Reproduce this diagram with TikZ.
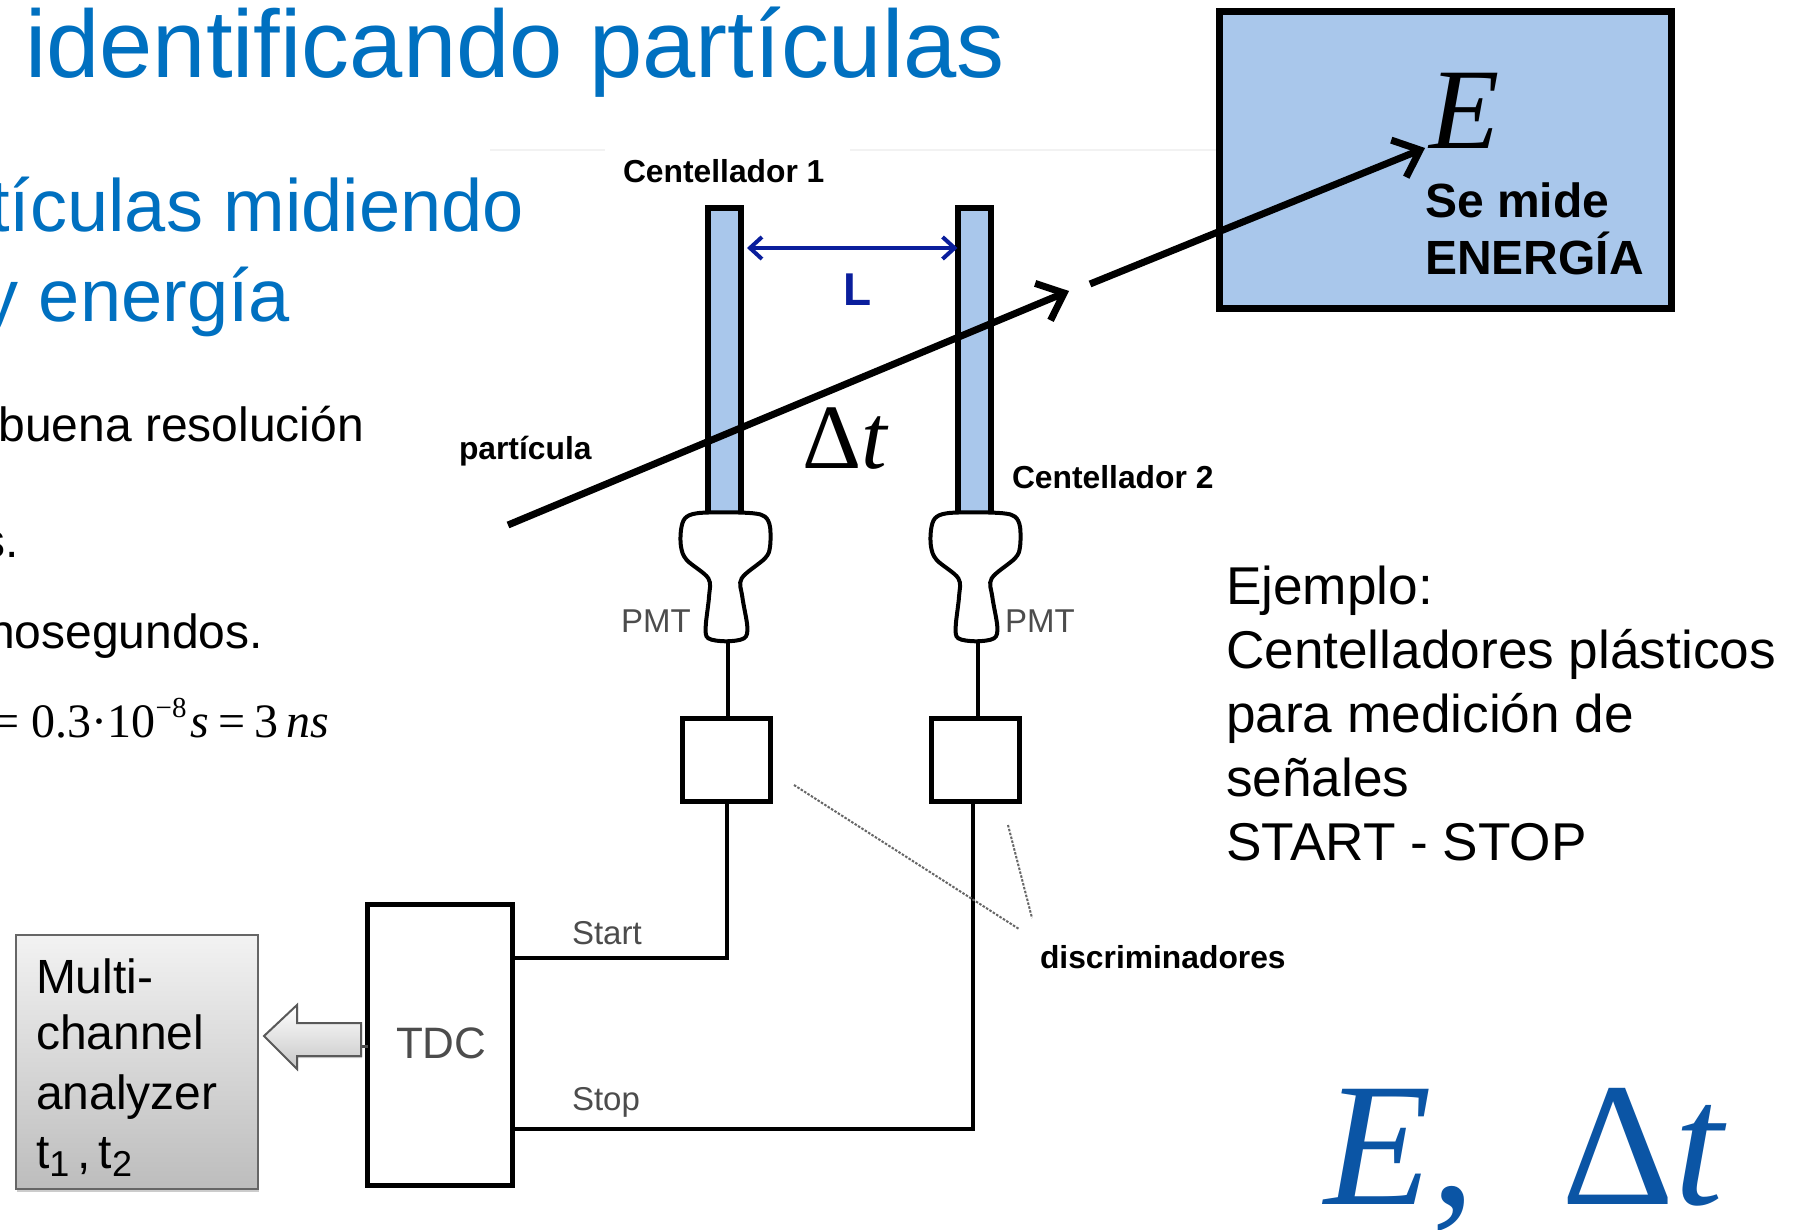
\documentclass[tikz,border=0pt]{standalone}
\usepackage{fontspec}
\setmainfont{Liberation Sans}
\newfontfamily\tms{Liberation Serif}
\newfontfamily\tmsb[FakeBold=0.8]{Liberation Serif}
\usetikzlibrary{arrows.meta,shadows}
\definecolor{titleblue}{HTML}{0070C0}
\definecolor{bigblue}{HTML}{0B55A5}
\definecolor{scintblue}{HTML}{A9C7EB}
\definecolor{lblue}{HTML}{0A1E9C}
\newcommand{\fsz}[1]{\fontsize{#1}{#1}\selectfont}
\tikzset{
  x=1pt,y=-1pt,
  txt/.style={inner sep=0pt,outer sep=0pt,anchor=base west,align=left},
  txe/.style={inner sep=0pt,outer sep=0pt,anchor=base east},
  lab/.style={txt,font=\bfseries\fsz{31.8}},
  gray lab/.style={txt,text=black!70,font=\fsz{33}},
  scint/.style={draw=black,line width=6pt,fill=scintblue,inner sep=0pt,outer sep=0pt,minimum width=33pt,minimum height=305pt},
  discbox/.style={draw=black,line width=5pt,fill=white,inner sep=0pt,outer sep=0pt,minimum width=88pt,minimum height=83pt},
  wire/.style={draw=black,line width=4pt},
  pmtline/.style={draw=black,line width=4pt,fill=white},
  ray/.style={draw=black,line width=7pt,-{Straight Barb[length=23pt,width=40pt,line width=7pt]}},
  dots/.style={draw=black!60,line width=2pt,dash pattern=on 2.5pt off 1.5pt},
}
\begin{document}
\begin{tikzpicture}
\useasboundingbox (0,0) rectangle (1810,1230);
\clip (0,0) rectangle (1810,1230);
\fill[white] (0,0) rectangle (1810,1230);

% faint scan rule
\coordinate (fa) at (490,150); \coordinate (fb) at (605,150);
\coordinate (fc) at (850,150); \coordinate (fd) at (1219,150);
\draw[black!5,line width=2pt] (fa) -- (fb) (fc) -- (fd);

% slide texts
\node[txt,text=titleblue,font=\fsz{95.8}] (title) at (25,78) {identificando partículas};
\node[txe,text=titleblue,font=\fsz{74}] (sub1) at (524,232) {tículas midiendo};
\node[txe,text=titleblue,font=\fsz{74}] (sub2) at (290,322) {y energía};
\node[txe,font=\fsz{48}] (b1) at (364,442) {buena resolución};
\node[txe,font=\fsz{48}] (b2) at (19,557) {s.};
\node[txe,font=\fsz{48}] (b3) at (263,648) {nosegundos.};
\node[txe,font=\tms\fsz{48}] (eq) at (329,737) {= 0.3·10\raisebox{20pt}{\fsz{29}−8}\hspace{4pt}\textit{s}\hspace{9pt}=\hspace{9pt}3\,\textit{ns}};

% energy box
\node[draw=black,line width=7pt,fill=scintblue,inner sep=0pt,outer sep=0pt,minimum width=452pt,minimum height=297pt] (ebox) at (1445.5,160) {};
\node[txt,font=\tms\itshape\fsz{115}] (elab) at (1429,149) {E};
\node[txt,font=\bfseries\fsz{48}] (se) at (1425,218) {Se mide};
\node[txt,font=\bfseries\fsz{48}] (en) at (1425,275) {ENERGÍA};

% scintillators
\node[scint] (s1) at (724.5,361) {};
\node[scint] (s2) at (974,361) {};
\node[lab] (c1) at (623,183) {Centellador 1};
\node[lab] (c2) at (1012,488) {Centellador 2};

% L arrow
\draw[lblue,line width=4pt,{Straight Barb[length=12pt,width=22pt,line width=4pt]}-{Straight Barb[length=12pt,width=22pt,line width=4pt]}] (s1.east |- 0,248) ++(6,0) coordinate (la) -- (s2.west |- 0,248) coordinate (lb);
\node[txt,text=lblue,font=\bfseries\fsz{46}] (ll) at (843,306) {L};

% PMTs
\foreach \dx/\nm in {0/a,250/b}{
\begin{scope}[xshift=\dx pt]
\draw[pmtline] plot[smooth cycle,tension=0.55] coordinates {(725,512.3)(696.7,513.3)(685,518.3)(681,530)(681,546.7)(686.7,560)(708.3,578.3)(709,596.7)(705.7,626.7)(708.3,638.3)(726,641.3)(744,638.3)(747.3,626.7)(742.3,596.7)(741.7,578.3)(765,558.3)(770,546.7)(770,526.7)(765,516.7)(753.3,513.3)};
\coordinate (pmt\nm) at (728,641);
\end{scope}}
\node[gray lab] (pl) at (621,632) {PMT};
\node[gray lab] (pr) at (1005,632) {PMT};

% discriminators
\node[discbox] (d1) at (726.5,759.5) {};
\node[discbox] (d2) at (975.5,759.5) {};
\draw[wire] (pmta) -- (pmta |- d1.north);
\draw[wire] (pmtb) -- (pmtb |- d2.north);

% TDC
\node[draw=black,line width=5pt,fill=white,inner sep=0pt,outer sep=0pt,minimum width=145pt,minimum height=281pt] (tdc) at (440,1044.5) {};
\node[txt,text=black!70,font=\fsz{44}] (tdcl) at (396,1058) {TDC};
\coordinate (st) at (tdc.east |- 0,958);
\coordinate (sp) at (tdc.east |- 0,1129);
\draw[wire] (d1.south) |- (st);
\draw[wire] (d2.south -| 973,0) |- (sp);
\node[gray lab] (startl) at (572,944) {Start};
\node[gray lab] (stopl) at (572,1110) {Stop};

% hollow arrow
\coordinate (hs) at (361,1046);
\draw[black!70,line width=3pt] (hs) -- (tdc.west |- hs);
\draw[black!65,line width=2pt,top color=white,bottom color=black!22,drop shadow={shadow xshift=1pt,shadow yshift=-2pt,opacity=.35}]
  (264,1036) -- (297,1005) -- (297,1023) -- (361,1023) -- (361,1056) -- (297,1056) -- (297,1069) -- cycle;

% analyzer
\node[draw=black!60,line width=2pt,top color=black!5,bottom color=black!26,inner sep=0pt,outer sep=0pt,minimum width=242pt,minimum height=254pt,drop shadow={shadow xshift=1pt,shadow yshift=-3pt,opacity=.4}] (mca) at (137,1062) {};
\node[txt,font=\fsz{48}] (m1) at (36,993) {Multi-};
\node[txt,font=\fsz{48}] (m2) at (36,1049) {channel};
\node[txt,font=\fsz{48}] (m3) at (36,1109) {analyzer};
\node[txt,font=\fsz{48}] (m4) at (36,1168) {t\raisebox{-8pt}{\fsz{36}1}\,,\,t\raisebox{-8pt}{\fsz{36}2}};

% dotted pointers
\coordinate (q1) at (794,785); \coordinate (q2) at (1019,929);
\coordinate (q3) at (1008,825); \coordinate (q4) at (1032,918);
\draw[dots] (q1) -- (q2);
\draw[dots] (q3) -- (q4);
\node[lab] (disc) at (1040,968) {discriminadores};

% particle
\coordinate (pa) at (508,525); \coordinate (pb) at (1069,291);
\coordinate (pc) at (1090,284); \coordinate (pd) at (1425,148);
\draw[ray] (pa) -- (pb);
\draw[ray] (pc) -- (pd);
\node[lab] (part) at (459,459) {partícula};
\node[txt,font=\tms\fsz{92}] (dt) at (802,468) {Δ\textit{t}};

% example
\node[txt,font=\fsz{53.2}] (e1) at (1226,604) {Ejemplo:};
\node[txt,font=\fsz{53.2}] (e2) at (1226,668) {Centelladores plásticos};
\node[txt,font=\fsz{53.2}] (e3) at (1226,732) {para medición de};
\node[txt,font=\fsz{53.2}] (e4) at (1226,796) {señales};
\node[txt,font=\fsz{53.2}] (e5) at (1226,860) {START - STOP};

% big result
\node[txt,text=bigblue,font=\tms\fsz{176}] (res) at (1324,1204) {\textit{E},\hspace{86pt}Δ\textit{t}};
\end{tikzpicture}
\end{document}
